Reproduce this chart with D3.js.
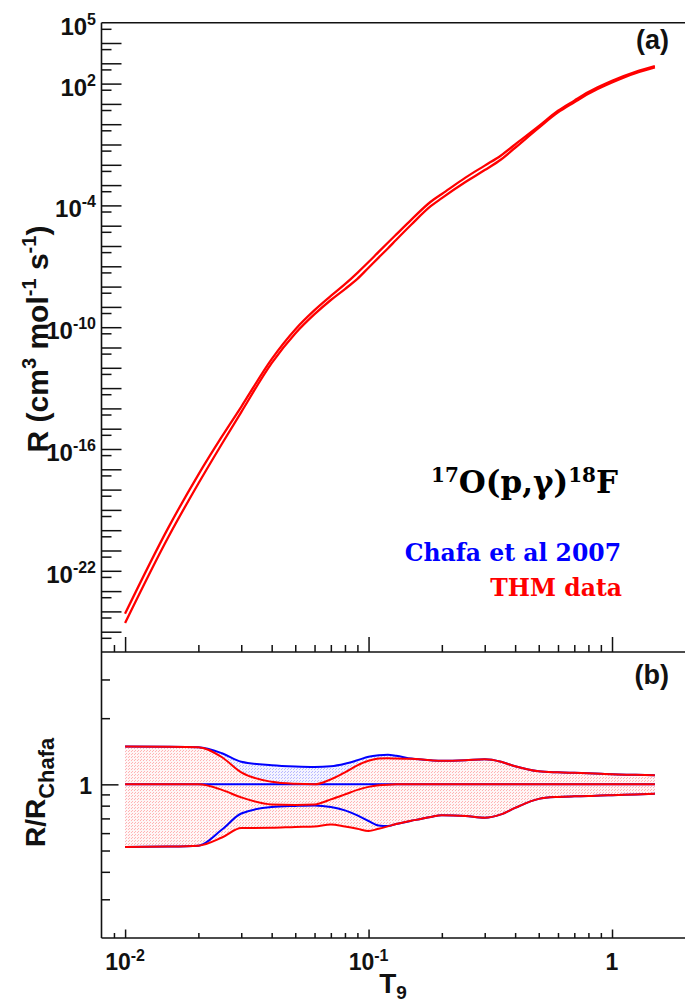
<!DOCTYPE html>
<html>
<head>
<meta charset="utf-8">
<script src="https://cdn.jsdelivr.net/npm/d3@7"></script>
<style>
  html, body { margin: 0; padding: 0; background: #ffffff; }
  svg { display: block; }
  text { font-family: "Liberation Sans", Arial, Helvetica, sans-serif; font-weight: bold; fill: #111; }
</style>
</head>
<body>
<svg id="chart" width="685" height="1002"></svg>
<script>
// Temperature grid (T9 = T / 10^9 K)
const T9 = [0.01, 0.015, 0.02, 0.025, 0.03, 0.04, 0.05, 0.06, 0.07, 0.08, 0.09, 0.1,
            0.11, 0.12, 0.13, 0.15, 0.18, 0.2, 0.25, 0.3, 0.35, 0.4, 0.5, 0.6, 0.7,
            0.8, 0.9, 1.0, 1.25, 1.5];

// Panel (a): THM reaction rate, upper and lower limits, as log10(R / cm^3 mol^-1 s^-1)
const logRateUpper = [-24.11, -19.91, -17.26, -15.38, -13.92, -11.57, -10.11, -9.16, -8.46, -7.88,
                      -7.32, -6.79, -6.29, -5.84, -5.43, -4.70, -3.82, -3.44, -2.63, -2.04,
                      -1.54, -1.00, -0.10, 0.66, 1.16, 1.58, 1.89, 2.14, 2.58, 2.86];
const logRateLower = [-24.57, -20.37, -17.70, -15.74, -14.18, -11.77, -10.31, -9.36, -8.66, -8.12,
                      -7.62, -7.07, -6.57, -6.12, -5.69, -4.94, -4.04, -3.64, -2.85, -2.26,
                      -1.74, -1.16, -0.18, 0.58, 1.08, 1.50, 1.81, 2.06, 2.52, 2.80];

// Panel (b): rates normalised to the Chafa et al. (2007) recommended rate
const thmRatioUpper   = [1.486, 1.483, 1.475, 1.328, 1.134, 1.027, 1.005, 1.000, 1.054, 1.134,
                         1.221, 1.280, 1.310, 1.314, 1.310, 1.307, 1.287, 1.280, 1.287, 1.300,
                         1.267, 1.208, 1.146, 1.134, 1.128, 1.123, 1.117, 1.111, 1.105, 1.099];
const thmRatioCentral = [1.000, 1.000, 1.000, 0.944, 0.872, 0.810, 0.806, 0.810, 0.854, 0.900,
                         0.944, 0.974, 0.990, 0.997, 1.000, 1.000, 1.000, 1.000, 1.000, 1.000,
                         1.000, 1.000, 1.000, 1.000, 1.000, 1.000, 1.000, 1.000, 1.000, 1.000];
const thmRatioLower   = [0.519, 0.521, 0.526, 0.573, 0.633, 0.634, 0.640, 0.643, 0.657, 0.643,
                         0.628, 0.613, 0.628, 0.644, 0.660, 0.683, 0.711, 0.724, 0.718, 0.705,
                         0.730, 0.781, 0.859, 0.877, 0.882, 0.884, 0.889, 0.893, 0.900, 0.907];
const chafaRatioUpper   = [1.486, 1.483, 1.475, 1.385, 1.267, 1.221, 1.205, 1.199, 1.208, 1.240,
                           1.287, 1.335, 1.356, 1.364, 1.349, 1.310, 1.287, 1.280, 1.287, 1.300,
                           1.267, 1.208, 1.146, 1.134, 1.128, 1.123, 1.117, 1.111, 1.105, 1.099];
const chafaRatioCentral = [1, 1, 1, 1, 1, 1, 1, 1, 1, 1, 1, 1, 1, 1, 1,
                           1, 1, 1, 1, 1, 1, 1, 1, 1, 1, 1, 1, 1, 1, 1];
const chafaRatioLower   = [0.519, 0.521, 0.526, 0.623, 0.737, 0.789, 0.798, 0.802, 0.789, 0.761,
                           0.722, 0.681, 0.650, 0.646, 0.660, 0.683, 0.711, 0.724, 0.718, 0.705,
                           0.730, 0.781, 0.859, 0.877, 0.882, 0.884, 0.889, 0.893, 0.900, 0.907];

// Axis labels
const rateTickExponents = [5, 2, -4, -10, -16, -22];
const tempTickLabels = [{v: 0.01, base: "10", exp: "-2"}, {v: 0.1, base: "10", exp: "-1"}, {v: 1, base: "1", exp: ""}];

// ---------------------------------------------------------------
const svg = d3.select("#chart");
const W = 685, H = 1002;
svg.append("rect").attr("width", W).attr("height", H).attr("fill", "#fff");

const left = 101.5, right = 685.3, topA = 22.7, midY = 652, botY = 938;
const x  = d3.scaleLog().domain([0.008, 2]).range([left, right]);
const yA = d3.scaleLog().domain([1e-26, 1e5]).range([midY, topA]);
const yB = d3.scaleLog().domain([0.2, 4]).range([botY, midY]);

const RED = "#ff0000", BLUE = "#0000ff", INK = "#111";

// dotted fill patterns
const defs = svg.append("defs");
function dotPattern(id, dot, bg) {
  const p = defs.append("pattern").attr("id", id)
    .attr("patternUnits", "userSpaceOnUse").attr("width", 3).attr("height", 3);
  if (bg) p.append("rect").attr("width", 3).attr("height", 3).attr("fill", bg);
  p.append("rect").attr("x", 0).attr("y", 0).attr("width", 1).attr("height", 1).attr("fill", dot);
  p.append("rect").attr("x", 2).attr("y", 1).attr("width", 1).attr("height", 1).attr("fill", dot);
}
dotPattern("dotsBlue", "#b8b8ff", "#f4f4ff");
dotPattern("dotsRed", "#ffb4b4", "#fff6f6");

defs.append("clipPath").attr("id", "clipA").append("rect")
  .attr("x", left).attr("y", topA).attr("width", right - left).attr("height", midY - topA);
defs.append("clipPath").attr("id", "clipB").append("rect")
  .attr("x", left).attr("y", midY).attr("width", right - left).attr("height", botY - midY);

// ---------------- panel (a) ----------------
const gA = svg.append("g").attr("clip-path", "url(#clipA)");
const lineA = d3.line().x(d => x(d[0])).y(d => yA(Math.pow(10, d[1]))).curve(d3.curveMonotoneX);
[logRateUpper, logRateLower].forEach(arr => {
  gA.append("path").datum(T9.map((t, i) => [t, arr[i]]))
    .attr("d", lineA).attr("fill", "none").attr("stroke", RED).attr("stroke-width", 2.3);
});

// ---------------- panel (b) ----------------
const gB = svg.append("g").attr("clip-path", "url(#clipB)");
const areaB = d3.area().x(d => x(d.t)).y0(d => yB(d.lo)).y1(d => yB(d.hi)).curve(d3.curveMonotoneX);
const lineB = d3.line().x(d => x(d[0])).y(d => yB(d[1])).curve(d3.curveMonotoneX);

gB.append("path").datum(T9.map((t, i) => ({t, lo: chafaRatioLower[i], hi: chafaRatioUpper[i]})))
  .attr("d", areaB).attr("fill", "url(#dotsBlue)");
gB.append("path").datum(T9.map((t, i) => ({t, lo: thmRatioLower[i], hi: thmRatioUpper[i]})))
  .attr("d", areaB).attr("fill", "url(#dotsRed)");

[chafaRatioUpper, chafaRatioCentral, chafaRatioLower].forEach(arr => {
  gB.append("path").datum(T9.map((t, i) => [t, arr[i]]))
    .attr("d", lineB).attr("fill", "none").attr("stroke", BLUE).attr("stroke-width", 2);
});
[thmRatioUpper, thmRatioCentral, thmRatioLower].forEach(arr => {
  gB.append("path").datum(T9.map((t, i) => [t, arr[i]]))
    .attr("d", lineB).attr("fill", "none").attr("stroke", RED).attr("stroke-width", 2);
});

// ---------------- axes and frame ----------------
function axisGroup(axis, tx, ty) {
  const g = svg.append("g").attr("transform", `translate(${tx},${ty})`).call(axis);
  g.select(".domain").remove();
  g.selectAll(".tick line").attr("stroke", INK).attr("stroke-width", 1.5);
  return g;
}
// panel (a) y: decades (long) and half-decade marks (short)
const decades = d3.range(-25, 5).map(k => Math.pow(10, k));
const halves  = d3.range(-25, 6).map(k => 5 * Math.pow(10, k - 1));
axisGroup(d3.axisLeft(yA).tickValues(decades).tickSize(-20).tickFormat(""), left, 0);
axisGroup(d3.axisLeft(yA).tickValues(halves).tickSize(-10).tickFormat(""), left, 0);

// x ticks on both panels (pointing up)
const xMajor = [0.01, 0.1, 1];
const xMinor = [0.009, 0.02, 0.03, 0.04, 0.05, 0.06, 0.07, 0.08, 0.09,
                0.2, 0.3, 0.4, 0.5, 0.6, 0.7, 0.8, 0.9];
axisGroup(d3.axisBottom(x).tickValues(xMajor).tickSize(-15).tickFormat(""), 0, midY);
axisGroup(d3.axisBottom(x).tickValues(xMinor).tickSize(-7).tickFormat(""), 0, midY);
axisGroup(d3.axisBottom(x).tickValues(xMajor).tickSize(-8.5).tickFormat(""), 0, botY);
axisGroup(d3.axisBottom(x).tickValues(xMinor).tickSize(-5).tickFormat(""), 0, botY);

// panel (b) y ticks
axisGroup(d3.axisLeft(yB).tickValues([0.3, 0.4, 0.5, 0.6, 0.7, 0.8, 0.9, 2, 3]).tickSize(-8.5).tickFormat(""), left, 0);
axisGroup(d3.axisLeft(yB).tickValues([1]).tickSize(-17).tickFormat(""), left, 0);

// frame lines
const frame = svg.append("g").attr("stroke", INK).attr("stroke-width", 1.6).attr("fill", "none");
frame.append("line").attr("x1", left).attr("x2", W).attr("y1", topA).attr("y2", topA);
frame.append("line").attr("x1", left).attr("x2", W).attr("y1", midY).attr("y2", midY);
frame.append("line").attr("x1", left).attr("x2", W).attr("y1", botY).attr("y2", botY);
frame.append("line").attr("x1", left).attr("x2", left).attr("y1", topA).attr("y2", botY);

// ---------------- text ----------------
function powerLabel(xp, yp, base, exp, anchor, size, supSize, rise) {
  const t = svg.append("text").attr("x", xp).attr("y", yp).attr("text-anchor", anchor)
    .style("font-size", size + "px");
  t.append("tspan").text(base);
  if (exp) t.append("tspan").attr("dy", -rise).style("font-size", supSize + "px").text(exp);
  return t;
}
rateTickExponents.forEach(e => {
  powerLabel(96, yA(Math.pow(10, e)) + 12, "10", String(e), "end", 24, 16, 10);
});
tempTickLabels.forEach(d => {
  powerLabel(x(d.v), 970, d.base, d.exp, "middle", 23, 16, 9);
});
svg.append("text").attr("x", 92).attr("y", yB(1) + 10).attr("text-anchor", "end")
  .style("font-size", "23px").text("1");

// axis titles
const yTitle = svg.append("text").attr("transform", "translate(48,339) rotate(-90)")
  .attr("text-anchor", "middle").style("font-size", "30px");
yTitle.append("tspan").text("R (cm");
yTitle.append("tspan").attr("dy", -12).style("font-size", "20px").text("3");
yTitle.append("tspan").attr("dy", 12).text(" mol");
yTitle.append("tspan").attr("dy", -12).style("font-size", "20px").text("-1");
yTitle.append("tspan").attr("dy", 12).text(" s");
yTitle.append("tspan").attr("dy", -12).style("font-size", "20px").text("-1");
yTitle.append("tspan").attr("dy", 12).text(")");

const bTitle = svg.append("text").attr("transform", "translate(45,847) rotate(-90)")
  .attr("text-anchor", "start").style("font-size", "28px");
bTitle.append("tspan").text("R/R");
bTitle.append("tspan").attr("dy", 9).style("font-size", "22px").text("Chafa");

const xTitle = svg.append("text").attr("x", 393).attr("y", 993).attr("text-anchor", "middle")
  .style("font-size", "28px");
xTitle.append("tspan").text("T");
xTitle.append("tspan").attr("dy", 6).style("font-size", "19px").text("9");

// panel tags
svg.append("text").attr("x", 669).attr("y", 49).attr("text-anchor", "end").style("font-size", "27px").text("(a)");
svg.append("text").attr("x", 669).attr("y", 684).attr("text-anchor", "end").style("font-size", "27px").text("(b)");

// reaction and legend
const serif = '"DejaVu Serif", "Liberation Serif", serif';
const reac = svg.append("text").attr("x", 618).attr("y", 493).attr("text-anchor", "end")
  .style("font-family", serif).style("font-size", "31px").style("fill", "#000");
reac.append("tspan").attr("dy", -11).style("font-size", "20px").text("17");
reac.append("tspan").attr("dy", 11).text("O(p,γ)");
reac.append("tspan").attr("dy", -11).style("font-size", "20px").text("18");
reac.append("tspan").attr("dy", 11).text("F");

svg.append("text").attr("x", 621).attr("y", 561).attr("text-anchor", "end")
  .style("font-family", serif).style("font-size", "23.5px").style("fill", BLUE).text("Chafa et al 2007");
svg.append("text").attr("x", 622).attr("y", 595.5).attr("text-anchor", "end")
  .style("font-family", serif).style("font-size", "23.5px").style("fill", RED).text("THM data");
</script>
</body>
</html>
